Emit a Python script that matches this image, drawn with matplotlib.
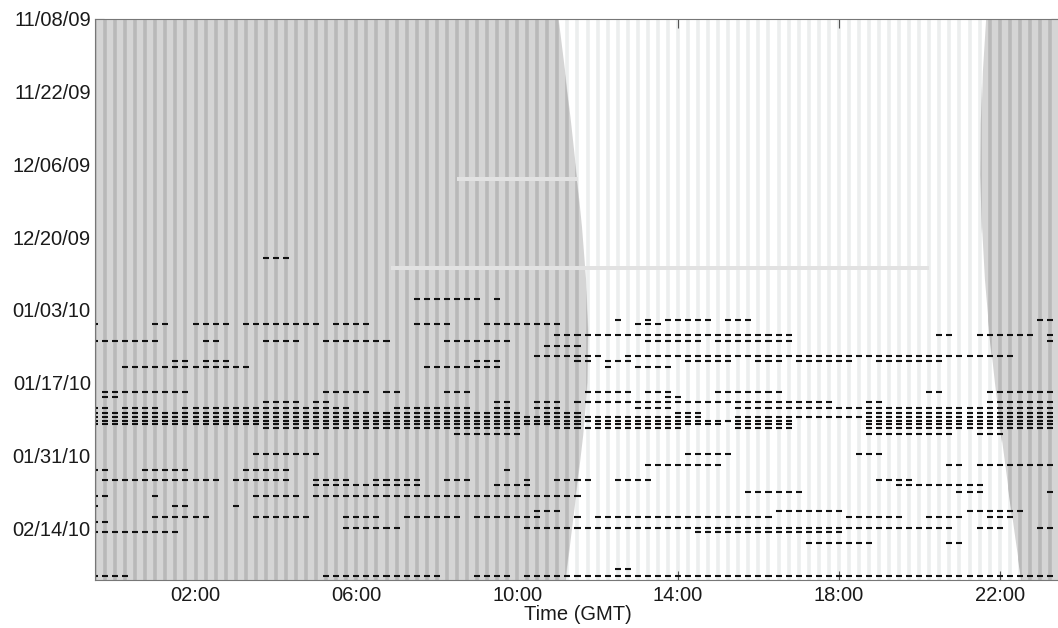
import datetime as dt
import numpy as np
import matplotlib
matplotlib.use('Agg')
from matplotlib import pyplot as plt

start = dt.date(2009, 11, 8)
date_ticks = [0, 14, 28, 42, 56, 70, 84, 98]          # days since 11/08/09
hour_ticks = [2, 6, 10, 14, 18, 22]

# day / night edge, hours GMT, sampled every 10 days
edge_days = [0, 10, 20, 30, 40, 50, 60, 70, 80, 90, 100, 108]
sunrise_h = [11.02, 11.18, 11.33, 11.47, 11.6, 11.7, 11.76, 11.74, 11.63, 11.48, 11.32, 11.2]
sunset_h = [21.65, 21.57, 21.53, 21.52, 21.55, 21.62, 21.73, 21.87, 22.03, 22.2, 22.38, 22.53]

# rows with no data (day, first hour, last hour)
gap_days = [30.8, 47.9]
gap_start = [8.5, 6.85]
gap_end = [11.5, 20.25]

# detections: day since 11/08/09 and runs of 15 min bins (first, last hour)
row_days = [46.0, 54.0, 57.9, 58.8, 60.8, 61.9, 62.9, 64.8, 65.8, 66.9,
            71.9, 72.8, 73.8, 74.8, 75.8, 76.6, 77.3, 78.0, 78.8, 79.8,
            83.8, 85.8, 86.9, 88.8, 89.8, 91.0, 91.9, 93.8, 94.8, 95.9,
            96.8, 97.9, 98.8, 100.8, 105.8, 107.3]
row_runs = [
    [(3.75, 4.25)],
    [(7.5, 9.0), (9.5, 9.5)],
    [(12.5, 12.5), (13.25, 13.25), (13.75, 14.75), (15.25, 15.75), (23.0, 23.25)],
    [(-0.5, -0.5), (1.0, 1.25), (2.0, 2.75), (3.25, 5.0), (5.5, 6.25), (7.5, 8.25), (9.25, 11.0), (13.0, 13.5)],
    [(11.0, 16.75), (20.5, 20.75), (21.5, 22.75), (23.25, 23.25)],
    [(-0.5, 1.0), (2.25, 2.5), (3.75, 4.5), (5.25, 6.75), (8.25, 9.75), (13.25, 14.5), (15.0, 16.75), (23.25, 23.25)],
    [(10.75, 11.5)],
    [(10.5, 12.0), (12.75, 22.25)],
    [(1.5, 1.75), (2.25, 2.75), (9.0, 9.5), (11.5, 11.75), (12.25, 12.75), (14.25, 15.25), (16.0, 16.5), (17.0, 18.25), (19.0, 20.5)],
    [(0.25, 3.25), (7.75, 9.5), (12.25, 12.25), (13.0, 13.75)],
    [(-0.25, 1.75), (5.25, 6.25), (6.75, 7.0), (8.25, 8.75), (11.75, 12.75), (13.25, 13.75), (15.0, 16.5), (20.25, 20.5), (21.75, 23.25)],
    [(-0.25, 0.0), (13.75, 14.0)],
    [(3.75, 4.5), (5.0, 5.25), (9.5, 9.75), (10.5, 11.0), (11.5, 17.75), (18.75, 19.0), (21.75, 23.25)],
    [(-0.5, -0.25), (0.25, 1.0), (1.75, 5.75), (7.0, 8.75), (9.5, 9.75), (10.5, 11.0), (13.0, 13.75), (15.5, 18.5), (18.75, 23.25)],
    [(-0.5, 10.0), (10.75, 11.5), (14.0, 14.5), (18.75, 23.25)],
    [(-0.5, 14.5), (15.5, 18.5), (18.75, 23.25)],
    [(-0.5, 11.5), (11.75, 16.75), (18.75, 23.25)],
    [(-0.5, 11.5), (12.0, 15.0), (15.5, 16.75), (18.75, 23.25)],
    [(3.75, 10.0), (11.0, 14.0), (15.5, 16.75), (18.75, 23.25)],
    [(8.5, 9.25), (9.5, 10.0), (18.75, 20.75), (21.5, 22.0)],
    [(3.5, 5.0), (14.25, 15.25), (18.5, 19.0)],
    [(13.25, 15.0), (20.75, 21.0), (21.5, 23.25)],
    [(-0.5, -0.25), (0.75, 1.75), (3.25, 4.25), (9.75, 9.75)],
    [(-0.25, 2.5), (3.0, 4.25), (5.0, 5.75), (6.5, 7.5), (8.25, 8.75), (10.25, 10.25), (11.0, 11.75), (12.5, 13.25), (19.0, 19.75)],
    [(5.0, 7.5), (9.5, 10.25), (19.5, 21.0), (21.25, 21.5)],
    [(15.75, 17.0), (21.0, 21.5), (23.25, 23.25)],
    [(-0.5, -0.25), (1.0, 1.0), (3.5, 4.5), (5.0, 11.5)],
    [(-0.5, -0.5), (1.5, 1.75), (3.0, 3.0)],
    [(10.5, 11.0), (16.5, 18.0), (21.25, 22.5)],
    [(1.0, 2.25), (3.5, 4.75), (5.75, 6.5), (7.25, 8.5), (9.0, 10.5), (11.5, 11.5), (12.0, 16.25), (18.25, 19.5), (20.25, 21.0), (21.75, 22.25)],
    [(-0.5, -0.25)],
    [(5.75, 7.0), (10.25, 20.75), (21.5, 22.0), (23.0, 23.25)],
    [(-0.5, 1.5), (14.5, 18.0)],
    [(17.25, 18.75), (20.75, 21.0)],
    [(12.5, 12.75)],
    [(-0.5, 0.25), (5.25, 8.0), (9.0, 9.75), (10.25, 23.25)],
]

night_base = '#d5d5d5'
night_stripe = '#b9b9b9'
day_stripe = '#eceeee'

plt.rcParams['font.family'] = ['Liberation Sans', 'DejaVu Sans']

fig = plt.figure(figsize=(10.58, 6.28), dpi=100)
ax = fig.add_axes([95 / 1058, 48 / 628, 965 / 1058, 561 / 628])
x_lo, x_hi, d_end = -0.5, 23.5, 108
ax.set_xlim(x_lo, x_hi)
ax.set_ylim(d_end, 0)

# background stripes every 15 minutes
stripe_x = np.arange(x_lo, x_hi + 0.01, 0.25)
ax.vlines(stripe_x, 0, d_end, color=day_stripe, lw=2.6, zorder=1)
for lo, hi in [(np.full(len(edge_days), x_lo - 1), sunrise_h), (sunset_h, np.full(len(edge_days), x_hi + 1))]:
    night = ax.fill_betweenx(edge_days, lo, hi, color=night_base, lw=0, zorder=2)
    lines = ax.vlines(stripe_x, 0, d_end, color=night_stripe, lw=2.6, zorder=3)
    lines.set_clip_path(night.get_paths()[0], ax.transData)

ax.barh(gap_days, np.array(gap_end) - np.array(gap_start), left=gap_start,
        height=0.8, color='#e2e2e2', lw=0, zorder=4)

xs, ys = [], []
for d, runs in zip(row_days, row_runs):
    for a, b in runs:
        h = np.arange(a, b + 0.01, 0.25)
        xs.extend(h)
        ys.extend([d] * len(h))
xs = np.array(xs)
ax.hlines(ys, xs - 0.075, xs + 0.075, color='#111111', lw=1.5, zorder=5)

ax.set_xticks(hour_ticks, labels=['%02d:00' % h for h in hour_ticks])
ax.set_yticks(date_ticks, labels=[(start + dt.timedelta(days=d)).strftime('%m/%d/%y') for d in date_ticks])
ax.tick_params(direction='in', length=6.5, top=True, right=True, labelsize=14.5,
               color='#555555', labelcolor='#1a1a1a', pad=4)
ax.tick_params(axis='y', pad=3)
ax.set_xlabel('Time (GMT)', fontsize=14.5, labelpad=0, color='#1a1a1a')
for s in ax.spines.values():
    s.set_color('#777777')
    s.set_zorder(6)

fig.savefig('out.png', dpi=100)
